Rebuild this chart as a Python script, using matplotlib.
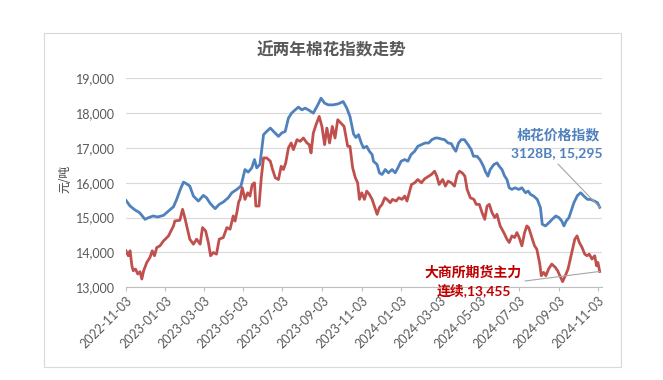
import numpy as np
import pandas as pd
import matplotlib
matplotlib.use('Agg')
import matplotlib.pyplot as plt
import matplotlib.dates as mdates
from matplotlib.patches import Rectangle

# ---------------- data (weeks since 2022-11-03, 元/吨) ----------------
start = pd.Timestamp('2022-11-03')

index_weeks = [0, 0.9, 2, 3, 4.2, 5, 6, 7, 8.3, 9.4, 10.5, 11.2, 12, 12.7, 13.4, 14.1,
               14.9, 16, 17.1, 17.8, 18.6, 19.7, 20.6, 21.5, 22.6, 23.4, 24.5, 25.4,
               26.3, 27, 27.8, 28.4, 28.9, 29.6, 30.4, 31.1, 31.9, 32.6, 33.7, 34.4,
               35.2, 35.9, 36.6, 37.4, 38.1, 38.9, 39.6, 40.3, 41.4, 42.4, 43.1, 43.9,
               44.7, 45.8, 46.9, 48, 48.8, 49.5, 50.3, 50.8, 51.4, 52, 52.5, 53.2, 53.8,
               54.4, 54.7, 55.5, 56, 56.6, 57.3, 58, 58.8, 59.5, 60.1, 60.8, 61.6, 62.3,
               63, 63.8, 64.5, 65.3, 66.1, 66.9, 67.6, 68.4, 68.9, 69.7, 70.4, 71.2,
               71.9, 72.4, 72.9, 73.5, 74.1, 74.8, 75.6, 76.3, 76.8, 77.6, 78.3, 79,
               79.4, 80, 80.5, 81.3, 82, 82.5, 83.1, 83.7, 84.2, 84.7, 85.3, 86, 86.8,
               87.5, 88.3, 88.9, 89.4, 90.1, 90.9, 91.6, 92, 92.7, 93.5, 94.2, 95,
               95.7, 96.3, 96.8, 97.3, 97.9, 98.5, 99, 99.8, 100.5, 101.2, 102, 102.7,
               103.5, 104.2, 104.7]
index_vals = [15495, 15333, 15219, 15143, 14952, 15000, 15048, 15019, 15066, 15190,
              15314, 15524, 15810, 16019, 15971, 15905, 15619, 15476, 15638, 15571,
              15410, 15257, 15381, 15448, 15571, 15714, 15810, 15905, 16381, 16305,
              16429, 16667, 16429, 16524, 17381, 17476, 17571, 17476, 17333, 17429,
              17476, 17857, 18000, 18095, 18171, 18095, 18143, 18095, 18000, 18238,
              18429, 18286, 18238, 18238, 18267, 18333, 18143, 17905, 17400, 17300,
              17381, 17143, 17000, 17048, 16905, 16810, 16619, 16524, 16286, 16238,
              16381, 16286, 16381, 16286, 16429, 16619, 16667, 16619, 16810, 16905,
              17048, 17095, 17143, 17143, 17238, 17286, 17286, 17257, 17238, 17143,
              17124, 17000, 16905, 17143, 17238, 17238, 17095, 16952, 16762, 16762,
              16650, 16476, 16333, 16190, 16381, 16524, 16571, 16476, 16381, 16190,
              16095, 15857, 15810, 15857, 15810, 15857, 15714, 15762, 15667, 15619,
              15524, 15286, 14810, 14762, 14857, 14952, 15048, 15000, 14905, 14762,
              14905, 15000, 15238, 15429, 15638, 15714, 15619, 15524, 15524, 15476,
              15429, 15295]

fut_weeks = [0, 0.5, 0.9, 1.3, 1.6, 2.1, 2.6, 3.1, 3.5, 3.9, 4.6, 5.3, 5.8, 6.3, 6.8,
             7.5, 8.3, 9.4, 10.5, 10.8, 11.9, 12.5, 13, 13.6, 14.1, 14.9, 15.6, 16.4,
             16.9, 17.6, 18.2, 18.7, 19.3, 20, 20.6, 21.5, 22.3, 23, 23.7, 24.1, 24.5,
             24.9, 25.2, 25.7, 26.3, 26.9, 27.4, 27.9, 28.4, 28.7, 29.4, 29.9, 30.4,
             31.1, 31.9, 32.4, 33, 33.7, 34.3, 34.8, 35.3, 35.9, 36.5, 37, 37.8, 38.5,
             39.2, 40, 40.5, 40.9, 41.4, 42, 42.7, 43.3, 43.9, 44.4, 45, 45.6, 46.2,
             46.8, 47.5, 48.2, 49, 49.5, 50.1, 50.7, 51.2, 51.6, 52.1, 52.7, 53.2,
             53.8, 54.4, 55, 55.5, 56, 56.6, 57.2, 57.7, 58.4, 58.9, 59.7, 60.3, 61,
             61.6, 62.1, 62.6, 63.1, 63.8, 64.5, 65.3, 66, 66.7, 67.5, 68.2, 68.7,
             69.2, 70, 70.6, 71.2, 71.9, 72.6, 73.2, 73.7, 74.3, 74.9, 75.4, 76.1,
             76.9, 77.4, 78.1, 78.7, 79.3, 79.8, 80.3, 80.9, 81.5, 82, 82.7, 83.5,
             84.2, 84.7, 85.3, 85.9, 86.4, 86.9, 87.5, 88.1, 88.6, 89, 89.6, 90.3,
             90.8, 91.4, 91.8, 92.3, 92.8, 93.4, 94.1, 94.9, 95.4, 95.9, 96.5, 97.1,
             97.7, 98.2, 98.7, 99.2, 99.7, 100.2, 100.8, 101.4, 101.9, 102.4, 103,
             103.6, 104, 104.3, 104.7]
fut_vals = [14048, 13905, 14048, 13619, 13476, 13524, 13381, 13448, 13238, 13476,
            13714, 13857, 14048, 13905, 14143, 14190, 14333, 14476, 14762, 14905,
            14924, 15238, 15000, 14667, 14381, 14238, 14381, 14238, 14714, 14619,
            14286, 13905, 14000, 13952, 14381, 14429, 14714, 14667, 15048, 14900,
            15143, 15450, 15524, 15857, 15524, 15714, 15619, 15952, 16000, 15333,
            15333, 16143, 16714, 16714, 16619, 16381, 16143, 16095, 16476, 16381,
            16571, 17000, 17143, 16952, 17238, 17190, 17286, 17143, 17095, 16857,
            17429, 17667, 17905, 17619, 17095, 17571, 17143, 17619, 17286, 17810,
            17714, 17619, 17048, 17048, 16429, 16143, 16000, 15524, 15714, 15524,
            15762, 15667, 15524, 15286, 15095, 15286, 15381, 15571, 15524, 15429,
            15524, 15476, 15571, 15524, 15619, 15476, 15714, 15952, 16000, 16095,
            16000, 16114, 16171, 16238, 16333, 16190, 15952, 16095, 15905, 16048,
            16000, 15905, 16238, 16333, 16286, 16190, 15810, 15571, 15524, 15381,
            15381, 15143, 14952, 15333, 15381, 15143, 15000, 15095, 14762, 14571,
            14381, 14286, 14476, 14429, 14571, 14429, 14190, 14571, 14762, 14714,
            14476, 14190, 14095, 13714, 13333, 13429, 13333, 13524, 13667, 13571,
            13476, 13333, 13162, 13333, 13524, 13810, 14095, 14381, 14476, 14286,
            14143, 13952, 13905, 13952, 13810, 13905, 13619, 13714, 13455]

index_label = ['棉花价格指数', '3128B, 15,295']
fut_label = ['大商所期货主力', '连续,13,455']
title = '近两年棉花指数走势'
y_label = '元/吨'

index_dates = start + pd.to_timedelta(np.array(index_weeks) * 7, unit='D')
fut_dates = start + pd.to_timedelta(np.array(fut_weeks) * 7, unit='D')
tick_dates = [start + pd.DateOffset(months=2 * i) for i in range(13)]

# ---------------- plot ----------------
plt.rcParams['font.family'] = ['Lato', 'Noto Sans CJK SC', 'DejaVu Sans']
W, H = 663, 380
fig = plt.figure(figsize=(W / 100, H / 100), dpi=100)
fig.patch.set_facecolor('white')

def fx(px):
    return px / W

def fy(py):
    return 1 - py / H

# outer chart frame
fig.patches.append(Rectangle((fx(44), fy(367)), fx(621) - fx(44), fy(33) - fy(367),
                             transform=fig.transFigure, fill=False,
                             edgecolor='#d9d9d9', lw=0.8))

ax = fig.add_axes([fx(126), fy(287.3), fx(601.7) - fx(126), fy(78.3) - fy(287.3)])
blue = '#4F81BD'
red = '#C0504D'
ax.plot(index_dates, index_vals, color=blue, lw=2.0, zorder=3)
ax.plot(fut_dates, fut_vals, color=red, lw=2.0, zorder=3)

ax.set_ylim(13000, 19000)
ax.set_xlim(start, start + pd.Timedelta(days=736))
ax.set_yticks(np.arange(13000, 19001, 1000))
ax.yaxis.set_major_formatter(matplotlib.ticker.FuncFormatter(lambda v, p: f'{int(v):,}'))
ax.set_xticks(tick_dates)
ax.xaxis.set_major_formatter(mdates.DateFormatter('%Y-%m-%d'))
ax.grid(axis='y', color='#d9d9d9', lw=0.8)
ax.set_axisbelow(True)
for s in ['top', 'right', 'left']:
    ax.spines[s].set_visible(False)
ax.spines['bottom'].set_color('#bfbfbf')
ax.spines['bottom'].set_linewidth(0.8)
ax.tick_params(axis='y', length=0, pad=8, labelsize=9, labelcolor='#595959')
ax.tick_params(axis='x', length=3.2, color='#bfbfbf', width=0.8, pad=2,
               labelsize=9, labelcolor='#595959')
for lab in ax.get_xticklabels():
    lab.set_rotation(45)
    lab.set_ha('right')
    lab.set_rotation_mode('anchor')

fig.text(fx(331), fy(50), title, ha='center', va='center', fontsize=12,
         color='#595959', family=['Noto Sans CJK SC'], weight='bold')
fig.text(fx(65), fy(179), y_label, ha='center', va='center', rotation=90,
         fontsize=8.5, color='#404040', family=['Noto Sans CJK SC'])

# end-of-line labels with leader lines
fig.text(fx(558), fy(135), index_label[0], ha='center', va='center', fontsize=10,
         color='#4F81BD', family=['Noto Sans CJK SC'], weight='bold')
fig.text(fx(557), fy(153.5), index_label[1], ha='center', va='center', fontsize=10,
         color='#4F81BD', family=['Lato', 'Noto Sans CJK SC'], weight='bold')
fig.text(fx(473.5), fy(272.5), fut_label[0], ha='center', va='center', fontsize=10,
         color='#C00000', family=['Noto Sans CJK SC'], weight='bold')
fig.text(fx(473.7), fy(290), fut_label[1], ha='center', va='center', fontsize=10,
         color='#C00000', family=['Lato', 'Noto Sans CJK SC'], weight='bold')

ax.annotate('', xy=(index_dates[-1], index_vals[-1]), xytext=(558, H - 164),
            textcoords='figure pixels',
            arrowprops=dict(arrowstyle='-', color='#a6a6a6', lw=0.8, shrinkA=0, shrinkB=0))
ax.annotate('', xy=(fut_dates[-1], fut_vals[-1]), xytext=(525, H - 281),
            textcoords='figure pixels',
            arrowprops=dict(arrowstyle='-', color='#a6a6a6', lw=0.8, shrinkA=0, shrinkB=0))

fig.savefig('out.png', dpi=100)
